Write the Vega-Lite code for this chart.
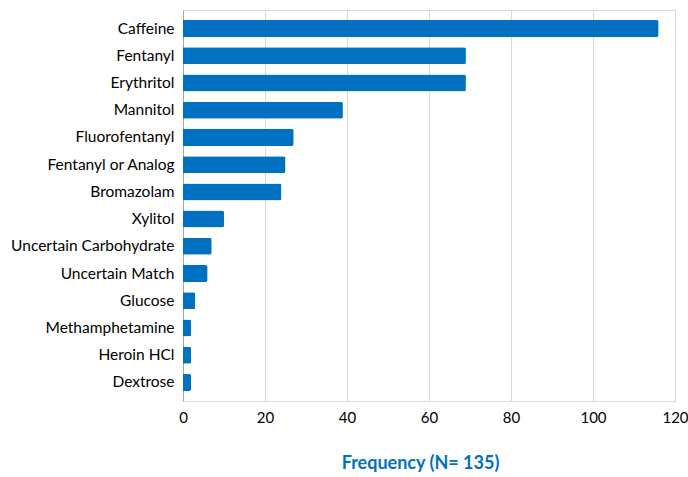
{
  "$schema": "https://vega.github.io/schema/vega-lite/v6.json",
  "width": 492,
  "height": 391,
  "autosize": {"type": "none"},
  "padding": {"left": 183, "top": 10, "right": 13, "bottom": 76},
  "background": "white",
  "config": {
    "font": "Lato",
    "view": {"stroke": "#d9d9d9", "strokeWidth": 1}
  },
  "data": {
    "values": [
      {"substance": "Caffeine", "count": 116},
      {"substance": "Fentanyl", "count": 69},
      {"substance": "Erythritol", "count": 69},
      {"substance": "Mannitol", "count": 39},
      {"substance": "Fluorofentanyl", "count": 27},
      {"substance": "Fentanyl or Analog", "count": 25},
      {"substance": "Bromazolam", "count": 24},
      {"substance": "Xylitol", "count": 10},
      {"substance": "Uncertain Carbohydrate", "count": 7},
      {"substance": "Uncertain Match", "count": 6},
      {"substance": "Glucose", "count": 3},
      {"substance": "Methamphetamine", "count": 2},
      {"substance": "Heroin HCl", "count": 2},
      {"substance": "Dextrose", "count": 2}
    ]
  },
  "mark": {"type": "bar", "color": "#0070C0", "cornerRadiusEnd": 2},
  "encoding": {
    "y": {
      "field": "substance",
      "type": "nominal",
      "sort": null,
      "scale": {"paddingInner": 0.376, "paddingOuter": 0.37},
      "axis": {
        "title": null,
        "ticks": false,
        "labelFontSize": 15.5,
        "labelColor": "#000000",
        "labelPadding": 9,
        "domainColor": "#a6a6a6",
        "labelLimit": 300
      }
    },
    "x": {
      "field": "count",
      "type": "quantitative",
      "scale": {"domain": [0, 120], "nice": false},
      "axis": {
        "values": [0, 20, 40, 60, 80, 100, 120],
        "title": "Frequency (N= 135)",
        "titleColor": "#0070C0",
        "titleFontSize": 18,
        "titleFontWeight": "bold",
        "titlePadding": 29,
        "titleX": 237,
        "ticks": false,
        "labelFontSize": 15,
        "labelColor": "#000000",
        "labelPadding": 9,
        "gridColor": "#d9d9d9",
        "domainColor": "#d9d9d9",
        "labelFlush": false
      }
    }
  }
}
